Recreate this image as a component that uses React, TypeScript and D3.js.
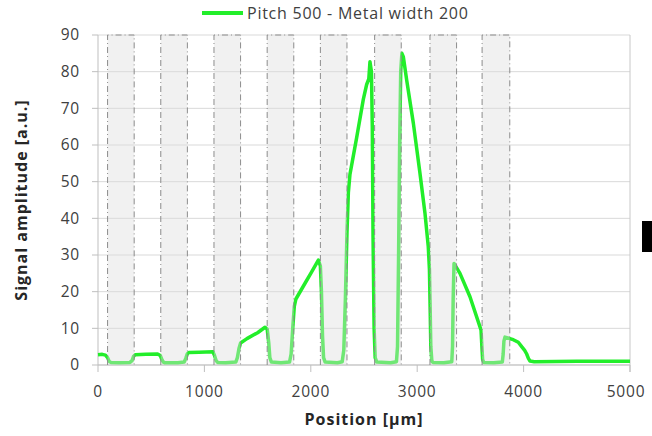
import React from "react";
import * as d3 from "d3";

const positions = [
  0, 40, 70, 90, 105, 120, 200, 300, 320, 335, 350, 450, 560, 585, 600, 615, 630, 750, 810, 825, 840, 855, 950,
  1080, 1095, 1110, 1125, 1200, 1295, 1310, 1325, 1340, 1400, 1500, 1570, 1590, 1605, 1615, 1630, 1720, 1800,
  1815, 1830, 1845, 1860, 1950, 2000, 2071, 2090, 2100, 2110, 2120, 2135, 2250, 2295, 2310, 2325, 2340, 2353,
  2368, 2431, 2494, 2525, 2545, 2556, 2570, 2578, 2585, 2595, 2605, 2620, 2750, 2805, 2815, 2825, 2835, 2845,
  2856, 2870, 2901, 2964, 3026, 3073, 3104, 3115, 3122, 3128, 3138, 3150, 3250, 3325, 3332, 3338, 3346, 3402,
  3496, 3590, 3600, 3608, 3615, 3625, 3720, 3800, 3808, 3815, 3825, 3903, 3950, 3982, 4010, 4029, 4045, 4060,
  4100, 4500, 5000,
];
const amplitude = [
  2.8, 2.9, 2.7, 2.0, 1.0, 0.7, 0.6, 0.7, 1.2, 2.4, 2.8, 2.9, 3.0, 2.6, 1.5, 0.8, 0.6, 0.6, 0.8, 1.8, 3.1, 3.4, 3.5,
  3.6, 2.6, 1.2, 0.7, 0.6, 0.8, 2.0, 4.5, 6.0, 7.2, 8.8, 10.3, 9.8, 6.0, 2.0, 0.8, 0.6, 0.8,
  3.0, 10.0, 16.0, 18.0, 22.5, 25.0, 28.6, 27.0, 20.0, 8.0, 2.0, 0.8, 0.6, 0.9, 4.0, 18.0, 36.0, 47.0,
  52.0, 62.0, 72.5, 76.5, 78.0, 82.7, 80.0, 65.0, 35.0, 10.0, 2.0, 0.8, 0.6, 0.9, 5.0, 30.0, 60.0, 80.0,
  85.0, 84.0, 77.7, 65.9, 52.3, 41.4, 32.3, 26.0, 15.0, 5.0, 1.0, 0.7, 0.6, 0.9, 5.0, 18.0, 27.7, 25.0,
  18.6, 10.4, 9.5, 5.0, 1.5, 0.7, 0.6, 0.8, 3.0, 6.5, 7.6, 6.9, 6.2, 5.0, 4.0, 3.0, 1.8, 1.1,
  0.9, 1.0, 1.0,
];
const metalStarts = [90, 590, 1090, 1590, 2090, 2600, 3120, 3610];
const metalEnds = [340, 840, 1340, 1840, 2340, 2850, 3370, 3870];
const xTicks = [0, 1000, 2000, 3000, 4000, 5000];
const yTicks = [0, 10, 20, 30, 40, 50, 60, 70, 80, 90];
const seriesName = "Pitch 500 - Metal width 200";
const xTitle = "Position [µm]";
const yTitle = "Signal amplitude [a.u.]";

const W = 652;
const H = 436;
const green = "#22ee2a";
const font = "'Open Sans', sans-serif";

export default function App() {
  const x = d3.scaleLinear().domain([0, 5000]).range([98, 630]);
  const y = d3.scaleLinear().domain([0, 90]).range([365, 35]);
  const pts = positions.map((p, i) => [p, amplitude[i]] as [number, number]);
  const line = d3
    .line<[number, number]>()
    .x((d) => x(d[0]))
    .y((d) => y(d[1]))
    .curve(d3.curveLinear);

  return (
    <svg
      width={W}
      height={H}
      style={{ position: "absolute", left: 0, top: 0, background: "#fff" }}
      fontFamily={font}
    >
      <rect x={0} y={0} width={W} height={H} fill="#fff" />
      {/* grid */}
      {yTicks.map((t) => (
        <line key={"g" + t} x1={x(0)} x2={x(5000)} y1={y(t)} y2={y(t)} stroke="#d9d9d9" strokeWidth={1} />
      ))}
      <line x1={x(5000)} x2={x(5000)} y1={y(90)} y2={y(0) + 7} stroke="#c8c8c8" strokeWidth={1} />
      {/* axes */}
      <line x1={x(0)} x2={x(0)} y1={y(90)} y2={y(0)} stroke="#bfbfbf" strokeWidth={1} />
      <line x1={x(0)} x2={x(5000)} y1={y(0)} y2={y(0)} stroke="#bfbfbf" strokeWidth={1} />
      {yTicks.map((t) => (
        <g key={"yt" + t}>
          <line x1={x(0) - 6} x2={x(0)} y1={y(t)} y2={y(t)} stroke="#bfbfbf" />
          <text x={80} y={y(t)} dy="0.35em" textAnchor="end" fontSize={15.5} letterSpacing={0.8} fill="#404040">
            {t}
          </text>
        </g>
      ))}
      {xTicks.map((t) => (
        <g key={"xt" + t}>
          <line x1={x(t)} x2={x(t)} y1={y(0)} y2={y(0) + 7} stroke="#bfbfbf" />
          <text
            x={t === 5000 ? x(t) - 4 : x(t)}
            y={397}
            textAnchor="middle"
            fontSize={15.5}
            letterSpacing={0.8}
            fill="#404040"
          >
            {t}
          </text>
        </g>
      ))}
      {/* signal */}
      <path d={line(pts) ?? ""} fill="none" stroke={green} strokeWidth={3.5} strokeLinejoin="round" />
      {/* metal lines */}
      {metalStarts.map((s, i) => (
        <g key={"m" + i}>
          <rect
            x={x(s)}
            y={y(90)}
            width={x(metalEnds[i]) - x(s)}
            height={y(0) - y(90)}
            fill="rgba(222,222,222,0.42)"
          />
          <path
            d={`M${x(s)},${y(0)}V${y(90)}H${x(metalEnds[i])}V${y(0)}`}
            fill="none"
            stroke="#8c8c8c"
            strokeWidth={1}
            strokeDasharray="6,3,1,3"
          />
        </g>
      ))}
      {/* legend */}
      <line x1={202} x2={243} y1={13} y2={13} stroke={green} strokeWidth={4} />
      <text x={247} y={18.5} fontSize={16} letterSpacing={0.75} fill="#404040">
        {seriesName}
      </text>
      {/* titles */}
      <text x={364} y={425} textAnchor="middle" fontSize={16} letterSpacing={1} fontWeight="bold" fill="#262626">
        {xTitle}
      </text>
      <text
        transform={`translate(27,${(y(0) + y(90)) / 2}) rotate(-90)`}
        textAnchor="middle"
        fontSize={16}
        letterSpacing={1}
        fontWeight="bold"
        fill="#262626"
      >
        {yTitle}
      </text>
      <rect x={642} y={221} width={12} height={31} fill="#000" />
    </svg>
  );
}
